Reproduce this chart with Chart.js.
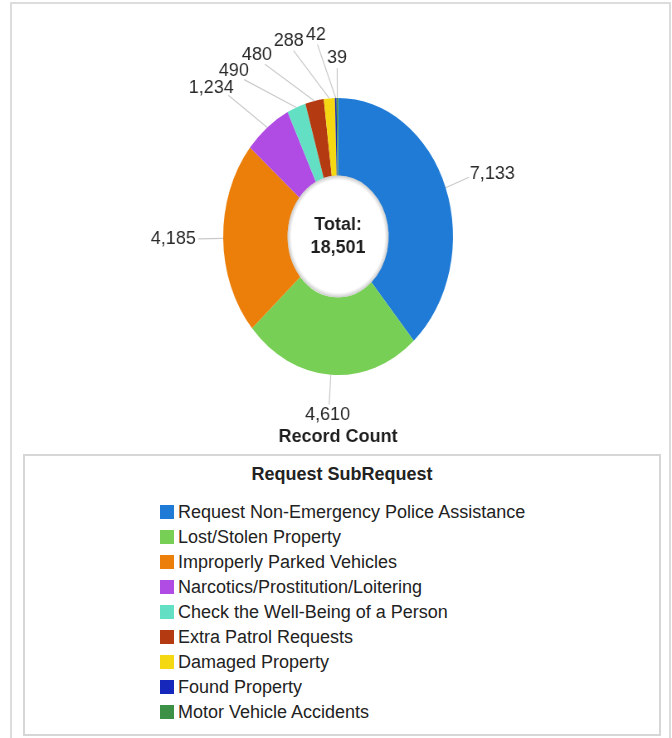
<!DOCTYPE html>
<html>
<head>
<meta charset="utf-8">
<script src="https://cdn.jsdelivr.net/npm/chart.js@4/dist/chart.umd.min.js"></script>
<style>
  html, body { margin: 0; padding: 0; background: #fff; }
  body { width: 672px; height: 738px; position: relative; overflow: hidden;
         font-family: "Liberation Sans", Arial, sans-serif; color: #222; }
  #frame { position: absolute; left: 10px; top: 2px; width: 657px; height: 780px;
           border: 2px solid #dcdcdc; }
  #chart { position: absolute; left: 0; top: 0; }
  #legend-box { position: absolute; left: 23px; top: 454px; width: 634px; height: 278px;
                border: 2px solid #d6d6d6; }
  #legend-title { position: absolute; left: 0; right: 0; top: 7px; text-align: center;
                  font-weight: bold; font-size: 18px; line-height: 22px; }
  #legend-items { position: absolute; left: 135px; top: 44px; }
  .item { height: 25px; line-height: 25px; font-size: 18px; white-space: nowrap; }
  .swatch { display: inline-block; width: 14px; height: 14px; margin-right: 4px;
            vertical-align: -1px; }
</style>
</head>
<body>
<div id="frame"></div>
<canvas id="chart" width="810" height="450" style="width:672px;height:450px"></canvas>
<div id="legend-box">
  <div id="legend-title"></div>
  <div id="legend-items"></div>
</div>
<script>
const categories = [
  "Request Non-Emergency Police Assistance",
  "Lost/Stolen Property",
  "Improperly Parked Vehicles",
  "Narcotics/Prostitution/Loitering",
  "Check the Well-Being of a Person",
  "Extra Patrol Requests",
  "Damaged Property",
  "Found Property",
  "Motor Vehicle Accidents"
];
const recordCounts = [7133, 4610, 4185, 1234, 490, 480, 288, 42, 39];
const sliceColors = ["#1f7bd6", "#78cf55", "#ec7e0a", "#b04ce4", "#63e0c4",
                     "#b43a12", "#f3d812", "#1628bc", "#3d9146"];
const legendTitle = "Request SubRequest";
const measureTitle = "Record Count";

// canvas is drawn wide and squeezed horizontally by CSS, so the ring comes out oval
const SQUEEZE = 672 / 810;
const FONT = '"Liberation Sans", Arial, sans-serif';
const fmt = v => v.toLocaleString("en-US");

function shade(hex, amt) {
  const n = parseInt(hex.slice(1), 16);
  let r = n >> 16, g = (n >> 8) & 255, b = n & 255;
  const t = amt < 0 ? 0 : 255, p = Math.abs(amt);
  r = Math.round(r + (t - r) * p); g = Math.round(g + (t - g) * p); b = Math.round(b + (t - b) * p);
  return `rgb(${r},${g},${b})`;
}

function sliceFill(c) {
  const base = sliceColors[c.dataIndex];
  const arc = c.element;
  if (!arc || !arc.outerRadius) return base;
  const g = c.chart.ctx.createRadialGradient(arc.x, arc.y, arc.innerRadius, arc.x, arc.y, arc.outerRadius);
  g.addColorStop(0, shade(base, 0.1));
  g.addColorStop(0.5, base);
  g.addColorStop(1, shade(base, -0.1));
  return g;
}

// text drawn with inverse x-scale so letters keep normal proportions
function drawText(ctx, text, x, y) {
  ctx.save();
  ctx.translate(x, y);
  ctx.scale(1 / SQUEEZE, 1);
  ctx.fillText(text, 0, 0);
  ctx.restore();
}

const holeShadow = {
  id: "holeShadow",
  afterDatasetsDraw(chart) {
    const arc = chart.getDatasetMeta(0).data[0];
    const ctx = chart.ctx;
    const r = arc.innerRadius;
    const g = ctx.createRadialGradient(arc.x, arc.y, r - 5, arc.x, arc.y, r);
    g.addColorStop(0, "rgba(170,170,170,0)");
    g.addColorStop(1, "rgba(150,150,150,0.5)");
    ctx.save();
    ctx.beginPath();
    ctx.arc(arc.x, arc.y, r, 0, Math.PI * 2);
    ctx.arc(arc.x, arc.y, r - 5, 0, Math.PI * 2, true);
    ctx.fillStyle = g;
    ctx.fill();
    ctx.restore();
  }
};

const sliceLabels = {
  id: "sliceLabels",
  afterDraw(chart) {
    const ctx = chart.ctx;
    const arcs = chart.getDatasetMeta(0).data;
    const cx = arcs[0].x, cy = arcs[0].y, r = arcs[0].outerRadius;
    const near = r + 30, far = r + 55, gap = 3, h = 14;
    const minSpread = 7 * Math.PI / 180;
    ctx.save();
    ctx.font = "18px " + FONT;
    ctx.textAlign = "center";
    ctx.textBaseline = "middle";

    const boxAt = (a, R, w) => {
      const ex = cx + Math.sin(a) * R, ey = cy - Math.cos(a) * R;
      const x = ex + Math.sin(a) * (w / 2 + gap), y = ey - Math.cos(a) * (h / 2 + gap);
      return { a, R, ex, ey, x, y, w };
    };
    const hits = (p, q) => Math.abs(p.x - q.x) < (p.w + q.w) / 2 + 2 &&
                           Math.abs(p.y - q.y) < h + 2;

    // place labels from the last slice backwards; crowded ones move out and anticlockwise
    const placed = [];
    for (let i = arcs.length - 1; i >= 0; i--) {
      const arc = arcs[i];
      const mid = (arc.startAngle + arc.endAngle) / 2 + Math.PI / 2;
      const w = ctx.measureText(fmt(recordCounts[i])).width / SQUEEZE;
      const prev = placed[placed.length - 1];
      let a = mid, R = near;
      if (prev && mid > prev.a - minSpread) { a = prev.a - minSpread; R = far; }
      let box = boxAt(a, R, w), steps = 0;
      while (placed.some(p => hits(p, box)) && steps++ < 300) box = boxAt(box.a - 0.005, R, w);
      box.i = i; box.mid = mid;
      placed.push(box);
    }

    ctx.strokeStyle = "#c9c9c9";
    ctx.lineWidth = 1.2;
    placed.forEach(b => {
      ctx.beginPath();
      ctx.moveTo(cx + Math.sin(b.mid) * r, cy - Math.cos(b.mid) * r);
      ctx.lineTo(b.ex, b.ey);
      ctx.stroke();
    });
    ctx.fillStyle = "#2a2a2a";
    placed.forEach(b => drawText(ctx, fmt(recordCounts[b.i]), b.x, b.y));

    // measure name under the ring
    ctx.font = "bold 18px " + FONT;
    ctx.fillStyle = "#1e1e1e";
    drawText(ctx, measureTitle, cx, 437);
    ctx.restore();
  }
};

const centerTotal = {
  id: "centerTotal",
  afterDraw(chart) {
    const arc = chart.getDatasetMeta(0).data[0];
    const ctx = chart.ctx;
    const total = recordCounts.reduce((s, v) => s + v, 0);
    ctx.save();
    ctx.font = "bold 18px " + FONT;
    ctx.textAlign = "center";
    ctx.textBaseline = "middle";
    ctx.fillStyle = "#1e1e1e";
    drawText(ctx, "Total:", arc.x, arc.y - 11.5);
    drawText(ctx, fmt(total), arc.x, arc.y + 11.5);
    ctx.restore();
  }
};

new Chart(document.getElementById("chart"), {
  type: "doughnut",
  data: {
    labels: categories,
    datasets: [{
      data: recordCounts,
      backgroundColor: sliceFill,
      borderWidth: 0
    }]
  },
  options: {
    responsive: false,
    devicePixelRatio: 1,
    animation: false,
    cutout: "44%",
    layout: { padding: { left: 269, right: 264, top: 98, bottom: 75 } },
    plugins: {
      legend: { display: false },
      tooltip: { enabled: false }
    }
  },
  plugins: [holeShadow, sliceLabels, centerTotal]
});

// legend list
document.getElementById("legend-title").textContent = legendTitle;
const list = document.getElementById("legend-items");
categories.forEach((name, i) => {
  const row = document.createElement("div");
  row.className = "item";
  const sw = document.createElement("span");
  sw.className = "swatch";
  sw.style.background = sliceColors[i];
  row.appendChild(sw);
  row.appendChild(document.createTextNode(name));
  list.appendChild(row);
});
</script>
</body>
</html>
